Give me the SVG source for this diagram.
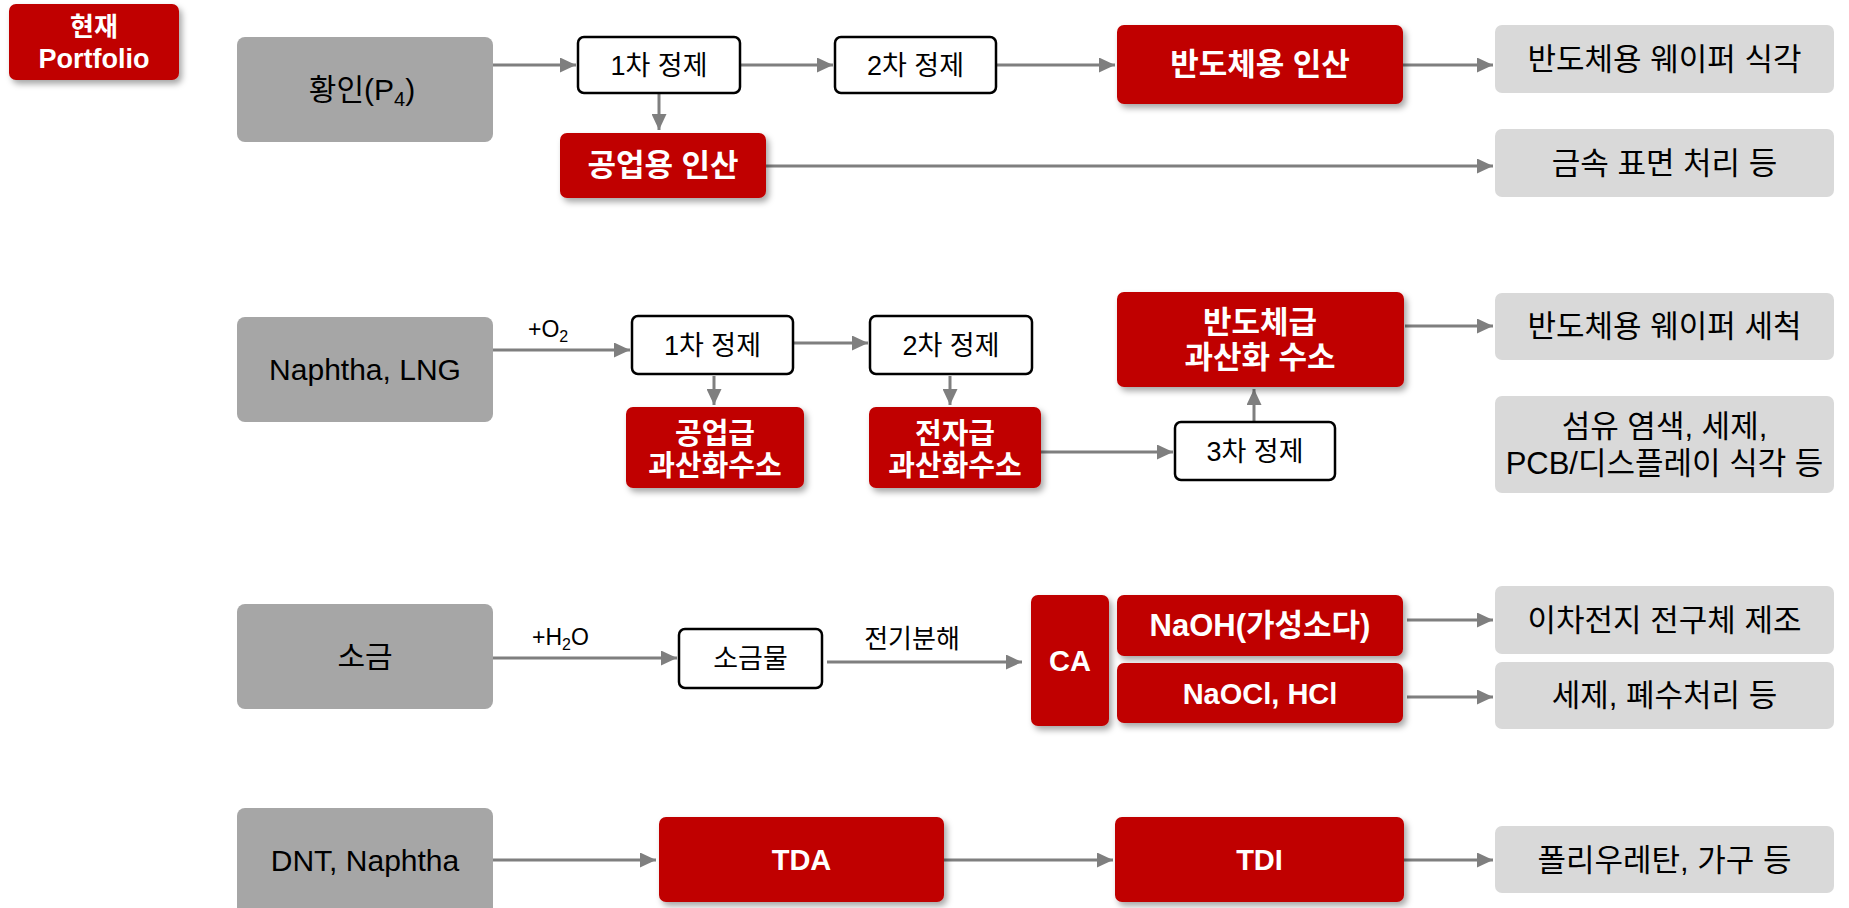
<svg xmlns="http://www.w3.org/2000/svg" width="1849" height="908" viewBox="0 0 1849 908">
<defs>
<style>
text{font-family:"Liberation Sans","Noto Sans CJK KR",sans-serif;text-anchor:middle;}
.red{fill:#C00000;filter:url(#sh);}
.gray{fill:#A6A6A6;}
.lg{fill:#D9D9D9;}
.wb{fill:#FFFFFF;stroke:#000000;stroke-width:2.5;}
.tw{fill:#FFFFFF;font-weight:bold;font-size:31px;}
.tb{fill:#000000;font-size:30px;}
.tl{fill:#000000;font-size:31px;}
.ts{fill:#000000;font-size:27px;}
.lab{fill:#000000;font-size:23px;}
.arr{stroke:#7F7F7F;stroke-width:3;fill:none;marker-end:url(#ah);}
</style>
<filter id="sh" x="-10%" y="-10%" width="130%" height="140%">
<feDropShadow dx="3" dy="4" stdDeviation="3" flood-color="#000" flood-opacity="0.35"/>
</filter>
<marker id="ah" markerUnits="userSpaceOnUse" markerWidth="16" markerHeight="15" refX="16" refY="7.5" orient="auto">
<path d="M0,0 L16,7.5 L0,15 z" fill="#7F7F7F"/>
</marker>
</defs>
<rect width="1849" height="908" fill="#FFFFFF"/>

<g id="connectors">
<line class="arr" x1="493" y1="65" x2="576" y2="65"/>
<line class="arr" x1="741" y1="65" x2="833" y2="65"/>
<line class="arr" x1="997" y1="65" x2="1115" y2="65"/>
<line class="arr" x1="1403" y1="65" x2="1493" y2="65"/>
<line class="arr" x1="659" y1="94" x2="659" y2="130"/>
<line class="arr" x1="766" y1="166" x2="1493" y2="166"/>
<line class="arr" x1="493" y1="350" x2="630" y2="350"/>
<line class="arr" x1="794" y1="343" x2="868" y2="343"/>
<line class="arr" x1="714" y1="376" x2="714" y2="405"/>
<line class="arr" x1="950" y1="376" x2="950" y2="405"/>
<line class="arr" x1="1041" y1="452" x2="1173" y2="452"/>
<line class="arr" x1="1254" y1="421" x2="1254" y2="389"/>
<line class="arr" x1="1405" y1="326" x2="1493" y2="326"/>
<line class="arr" x1="493" y1="658" x2="677" y2="658"/>
<line class="arr" x1="827" y1="662" x2="1022" y2="662"/>
<line class="arr" x1="1407" y1="620" x2="1493" y2="620"/>
<line class="arr" x1="1407" y1="697" x2="1493" y2="697"/>
<line class="arr" x1="492" y1="860" x2="656" y2="860"/>
<line class="arr" x1="944" y1="860" x2="1113" y2="860"/>
<line class="arr" x1="1404" y1="860" x2="1493" y2="860"/>
<text class="lab" x="528" y="337" style="text-anchor:start">+O<tspan font-size="16" dy="5">2</tspan></text>
<text class="lab" x="532" y="645" style="text-anchor:start">+H<tspan font-size="16" dy="5">2</tspan><tspan dy="-5">O</tspan></text>
<text class="lab" x="912" y="648" style="font-size:26px">전기분해</text>
</g>

<g id="portfolio"><rect class="red" x="9" y="4" width="170" height="76" rx="7"/>
<text class="tw" x="94" y="36" style="font-size:26px">현재</text>
<text class="tw" x="94" y="68" style="font-size:27px">Portfolio</text></g>

<!-- Row 1 -->
<g id="n-p4"><rect class="gray" x="237" y="37" width="256" height="105" rx="8"/>
<text class="tb" x="362" y="100">황인(P<tspan font-size="20" dy="6">4</tspan><tspan dy="-6">)</tspan></text></g>
<g id="n-r1-1"><rect class="wb" x="578" y="37" width="162" height="56" rx="6"/>
<text class="ts" x="659" y="75">1차 정제</text></g>
<g id="n-r1-2"><rect class="wb" x="835" y="37" width="161" height="56" rx="6"/>
<text class="ts" x="915.5" y="75">2차 정제</text></g>
<g id="n-semi-pa"><rect class="red" x="1117" y="25" width="286" height="79" rx="7"/>
<text class="tw" x="1260" y="75">반도체용 인산</text></g>
<g id="n-wafer-etch"><rect class="lg" x="1495" y="25" width="339" height="68" rx="7"/>
<text class="tl" x="1664.5" y="70">반도체용 웨이퍼 식각</text></g>
<g id="n-ind-pa"><rect class="red" x="560" y="133" width="206" height="65" rx="7"/>
<text class="tw" x="663" y="176">공업용 인산</text></g>
<g id="n-metal"><rect class="lg" x="1495" y="129" width="339" height="68" rx="7"/>
<text class="tl" x="1664.5" y="174">금속 표면 처리 등</text></g>

<!-- Row 2 -->
<g id="n-naphtha"><rect class="gray" x="237" y="317" width="256" height="105" rx="8"/>
<text class="tb" x="365" y="380">Naphtha, LNG</text></g>
<g id="n-r2-1"><rect class="wb" x="632" y="316" width="161" height="58" rx="6"/>
<text class="ts" x="712.5" y="355">1차 정제</text></g>
<g id="n-r2-2"><rect class="wb" x="870" y="316" width="162" height="58" rx="6"/>
<text class="ts" x="951" y="355">2차 정제</text></g>
<g id="n-ind-hp"><rect class="red" x="626" y="407" width="178" height="81" rx="7"/>
<text class="tw" x="715" y="444" style="font-size:29px">공업급</text>
<text class="tw" x="715" y="476" style="font-size:29px">과산화수소</text></g>
<g id="n-elec-hp"><rect class="red" x="869" y="407" width="172" height="81" rx="7"/>
<text class="tw" x="955" y="444" style="font-size:29px">전자급</text>
<text class="tw" x="955" y="476" style="font-size:29px">과산화수소</text></g>
<g id="n-r2-3"><rect class="wb" x="1175" y="422" width="160" height="58" rx="6"/>
<text class="ts" x="1255" y="461">3차 정제</text></g>
<g id="n-semi-hp"><rect class="red" x="1117" y="292" width="287" height="95" rx="7"/>
<text class="tw" x="1260" y="333">반도체급</text>
<text class="tw" x="1260" y="368">과산화 수소</text></g>
<g id="n-wafer-clean"><rect class="lg" x="1495" y="293" width="339" height="67" rx="7"/>
<text class="tl" x="1664.5" y="337">반도체용 웨이퍼 세척</text></g>
<g id="n-fiber"><rect class="lg" x="1495" y="396" width="339" height="97" rx="7"/>
<text class="tl" x="1664.5" y="437">섬유 염색, 세제,</text>
<text class="tl" x="1664.5" y="474">PCB/디스플레이 식각 등</text></g>

<!-- Row 3 -->
<g id="n-salt"><rect class="gray" x="237" y="604" width="256" height="105" rx="8"/>
<text class="tb" x="365" y="667">소금</text></g>
<g id="n-brine"><rect class="wb" x="679" y="629" width="143" height="59" rx="6"/>
<text class="ts" x="750.5" y="668">소금물</text></g>
<g id="n-ca"><rect class="red" x="1031" y="595" width="78" height="131" rx="7"/>
<text class="tw" x="1070" y="671" style="font-size:29px">CA</text></g>
<g id="n-naoh"><rect class="red" x="1117" y="595" width="286" height="61" rx="7"/>
<text class="tw" x="1260" y="636">NaOH(가성소다)</text></g>
<g id="n-naocl"><rect class="red" x="1117" y="663" width="286" height="60" rx="7"/>
<text class="tw" x="1260" y="704" style="font-size:29px">NaOCl, HCl</text></g>
<g id="n-battery"><rect class="lg" x="1495" y="586" width="339" height="68" rx="7"/>
<text class="tl" x="1664.5" y="631">이차전지 전구체 제조</text></g>
<g id="n-detergent"><rect class="lg" x="1495" y="662" width="339" height="67" rx="7"/>
<text class="tl" x="1664.5" y="706">세제, 폐수처리 등</text></g>

<!-- Row 4 -->
<g id="n-dnt"><rect class="gray" x="237" y="808" width="256" height="110" rx="8"/>
<text class="tb" x="365" y="871">DNT, Naphtha</text></g>
<g id="n-tda"><rect class="red" x="659" y="817" width="285" height="85" rx="7"/>
<text class="tw" x="801.5" y="870" style="font-size:29px">TDA</text></g>
<g id="n-tdi"><rect class="red" x="1115" y="817" width="289" height="85" rx="7"/>
<text class="tw" x="1259.5" y="870" style="font-size:29px">TDI</text></g>
<g id="n-pu"><rect class="lg" x="1495" y="826" width="339" height="67" rx="7"/>
<text class="tl" x="1664.5" y="871">폴리우레탄, 가구 등</text></g>
</svg>
